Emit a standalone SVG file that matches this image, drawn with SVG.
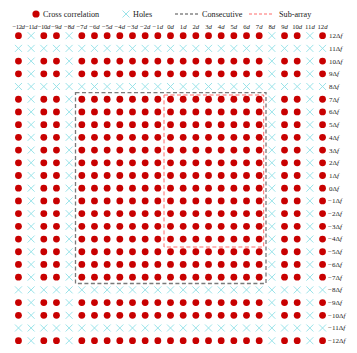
<svg xmlns="http://www.w3.org/2000/svg" xmlns:xlink="http://www.w3.org/1999/xlink" width="357" height="353" viewBox="0 0 357 353">
<style>
.dot{fill:#c80000}
.hole{stroke:#8fe0e6;stroke-width:0.9;fill:none}
text{font-family:"Liberation Serif","Times New Roman",serif;fill:#222}
.lab{font-size:7px}
.cl{text-anchor:middle;font-size:6.7px}
.tight{letter-spacing:-0.45px}
.leg{font-size:8.2px}
.it{font-style:italic}
.cons{fill:none;stroke:#7a7a7a;stroke-width:1.3;stroke-dasharray:4 2.5}
.sub{fill:none;stroke:#ff6a6a;stroke-width:1;stroke-dasharray:4 2.5}
</style>
<defs>
<circle id="c" r="3.4" class="dot"/>
<path id="x" d="M-3.5,-3.5L3.5,3.5M-3.5,3.5L3.5,-3.5" class="hole"/>
<g id="rowA">
<use xlink:href="#c" x="18.46"/><use xlink:href="#x" x="31.13"/><use xlink:href="#c" x="43.8"/><use xlink:href="#c" x="56.47"/><use xlink:href="#x" x="69.14"/>
<use xlink:href="#c" x="81.81"/><use xlink:href="#c" x="94.48"/><use xlink:href="#c" x="107.15"/><use xlink:href="#c" x="119.82"/><use xlink:href="#c" x="132.49"/><use xlink:href="#c" x="145.16"/><use xlink:href="#c" x="157.83"/>
<use xlink:href="#c" x="170.5"/>
<use xlink:href="#c" x="183.17"/><use xlink:href="#c" x="195.84"/><use xlink:href="#c" x="208.51"/><use xlink:href="#c" x="221.18"/><use xlink:href="#c" x="233.85"/><use xlink:href="#c" x="246.52"/><use xlink:href="#c" x="259.19"/>
<use xlink:href="#x" x="271.86"/><use xlink:href="#c" x="284.53"/><use xlink:href="#c" x="297.2"/><use xlink:href="#x" x="309.87"/><use xlink:href="#c" x="322.54"/>
</g>
<g id="rowB">
<use xlink:href="#x" x="18.46"/><use xlink:href="#x" x="31.13"/><use xlink:href="#x" x="43.8"/><use xlink:href="#x" x="56.47"/><use xlink:href="#x" x="69.14"/>
<use xlink:href="#x" x="81.81"/><use xlink:href="#x" x="94.48"/><use xlink:href="#x" x="107.15"/><use xlink:href="#x" x="119.82"/><use xlink:href="#x" x="132.49"/><use xlink:href="#x" x="145.16"/><use xlink:href="#x" x="157.83"/>
<use xlink:href="#x" x="170.5"/>
<use xlink:href="#x" x="183.17"/><use xlink:href="#x" x="195.84"/><use xlink:href="#x" x="208.51"/><use xlink:href="#x" x="221.18"/><use xlink:href="#x" x="233.85"/><use xlink:href="#x" x="246.52"/><use xlink:href="#x" x="259.19"/>
<use xlink:href="#x" x="271.86"/><use xlink:href="#x" x="284.53"/><use xlink:href="#x" x="297.2"/><use xlink:href="#x" x="309.87"/><use xlink:href="#x" x="322.54"/>
</g>
</defs>

<g id="legend">
<circle cx="36" cy="14" r="3.6" class="dot"/>
<text class="leg" x="43" y="17">Cross correlation</text>
<use xlink:href="#x" x="126" y="14"/>
<text class="leg" x="133" y="17">Holes</text>
<line x1="175" y1="14" x2="200" y2="14" stroke="#333" stroke-width="0.9" stroke-dasharray="3 2"/>
<text class="leg" x="202" y="17">Consecutive</text>
<line x1="249" y1="14" x2="273" y2="14" stroke="#ff5a5a" stroke-width="0.9" stroke-dasharray="3 2"/>
<text class="leg" x="279" y="17">Sub-array</text>
</g>

<g id="column-labels" class="lab cl">
<text class="tight" x="18.46" y="29">−12<tspan class="it">d</tspan></text>
<text class="tight" x="31.13" y="29">−11<tspan class="it">d</tspan></text>
<text class="tight" x="43.8" y="29">−10<tspan class="it">d</tspan></text>
<text x="56.47" y="29">−9<tspan class="it">d</tspan></text>
<text x="69.14" y="29">−8<tspan class="it">d</tspan></text>
<text x="81.81" y="29">−7<tspan class="it">d</tspan></text>
<text x="94.48" y="29">−6<tspan class="it">d</tspan></text>
<text x="107.15" y="29">−5<tspan class="it">d</tspan></text>
<text x="119.82" y="29">−4<tspan class="it">d</tspan></text>
<text x="132.49" y="29">−3<tspan class="it">d</tspan></text>
<text x="145.16" y="29">−2<tspan class="it">d</tspan></text>
<text x="157.83" y="29">−1<tspan class="it">d</tspan></text>
<text x="170.5" y="29">0<tspan class="it">d</tspan></text>
<text x="183.17" y="29">1<tspan class="it">d</tspan></text>
<text x="195.84" y="29">2<tspan class="it">d</tspan></text>
<text x="208.51" y="29">3<tspan class="it">d</tspan></text>
<text x="221.18" y="29">4<tspan class="it">d</tspan></text>
<text x="233.85" y="29">5<tspan class="it">d</tspan></text>
<text x="246.52" y="29">6<tspan class="it">d</tspan></text>
<text x="259.19" y="29">7<tspan class="it">d</tspan></text>
<text x="271.86" y="29">8<tspan class="it">d</tspan></text>
<text x="284.53" y="29">9<tspan class="it">d</tspan></text>
<text x="297.2" y="29">10<tspan class="it">d</tspan></text>
<text x="309.87" y="29">11<tspan class="it">d</tspan></text>
<text x="322.54" y="29">12<tspan class="it">d</tspan></text>
</g>

<g id="grid">
<use id="row-p12" xlink:href="#rowA" y="35.68"/>
<use id="row-p11" xlink:href="#rowB" y="48.39"/>
<use id="row-p10" xlink:href="#rowA" y="61.1"/>
<use id="row-p9" xlink:href="#rowA" y="73.81"/>
<use id="row-p8" xlink:href="#rowB" y="86.52"/>
<use id="row-p7" xlink:href="#rowA" y="99.23"/>
<use id="row-p6" xlink:href="#rowA" y="111.94"/>
<use id="row-p5" xlink:href="#rowA" y="124.65"/>
<use id="row-p4" xlink:href="#rowA" y="137.36"/>
<use id="row-p3" xlink:href="#rowA" y="150.07"/>
<use id="row-p2" xlink:href="#rowA" y="162.78"/>
<use id="row-p1" xlink:href="#rowA" y="175.49"/>
<use id="row-0" xlink:href="#rowA" y="188.2"/>
<use id="row-m1" xlink:href="#rowA" y="200.91"/>
<use id="row-m2" xlink:href="#rowA" y="213.62"/>
<use id="row-m3" xlink:href="#rowA" y="226.33"/>
<use id="row-m4" xlink:href="#rowA" y="239.04"/>
<use id="row-m5" xlink:href="#rowA" y="251.75"/>
<use id="row-m6" xlink:href="#rowA" y="264.46"/>
<use id="row-m7" xlink:href="#rowA" y="277.17"/>
<use id="row-m8" xlink:href="#rowB" y="289.88"/>
<use id="row-m9" xlink:href="#rowA" y="302.59"/>
<use id="row-m10" xlink:href="#rowA" y="315.3"/>
<use id="row-m11" xlink:href="#rowB" y="328.01"/>
<use id="row-m12" xlink:href="#rowA" y="340.72"/>
</g>

<g id="row-labels" class="lab">
<text x="329" y="38.1">12Δ<tspan class="it">f</tspan></text>
<text x="329" y="50.8">11Δ<tspan class="it">f</tspan></text>
<text x="329" y="63.5">10Δ<tspan class="it">f</tspan></text>
<text x="329" y="76.2">9Δ<tspan class="it">f</tspan></text>
<text x="329" y="88.9">8Δ<tspan class="it">f</tspan></text>
<text x="329" y="101.6">7Δ<tspan class="it">f</tspan></text>
<text x="329" y="114.3">6Δ<tspan class="it">f</tspan></text>
<text x="329" y="127">5Δ<tspan class="it">f</tspan></text>
<text x="329" y="139.8">4Δ<tspan class="it">f</tspan></text>
<text x="329" y="152.5">3Δ<tspan class="it">f</tspan></text>
<text x="329" y="165.2">2Δ<tspan class="it">f</tspan></text>
<text x="329" y="177.9">1Δ<tspan class="it">f</tspan></text>
<text x="329" y="190.6">0Δ<tspan class="it">f</tspan></text>
<text x="328" y="203.3">−1Δ<tspan class="it">f</tspan></text>
<text x="328" y="216">−2Δ<tspan class="it">f</tspan></text>
<text x="328" y="228.7">−3Δ<tspan class="it">f</tspan></text>
<text x="328" y="241.4">−4Δ<tspan class="it">f</tspan></text>
<text x="328" y="254.2">−5Δ<tspan class="it">f</tspan></text>
<text x="328" y="266.9">−6Δ<tspan class="it">f</tspan></text>
<text x="328" y="279.6">−7Δ<tspan class="it">f</tspan></text>
<text x="328" y="292.3">−8Δ<tspan class="it">f</tspan></text>
<text x="328" y="305">−9Δ<tspan class="it">f</tspan></text>
<text x="328" y="317.7">−10Δ<tspan class="it">f</tspan></text>
<text x="328" y="330.4">−11Δ<tspan class="it">f</tspan></text>
<text x="328" y="343.1">−12Δ<tspan class="it">f</tspan></text>
</g>

<g id="regions">
<rect id="consecutive" class="cons" x="75.5" y="92.6" width="190.5" height="190.9"/>
<rect id="sub-array" class="sub" x="164" y="95" width="99.7" height="152"/>
</g>
</svg>
